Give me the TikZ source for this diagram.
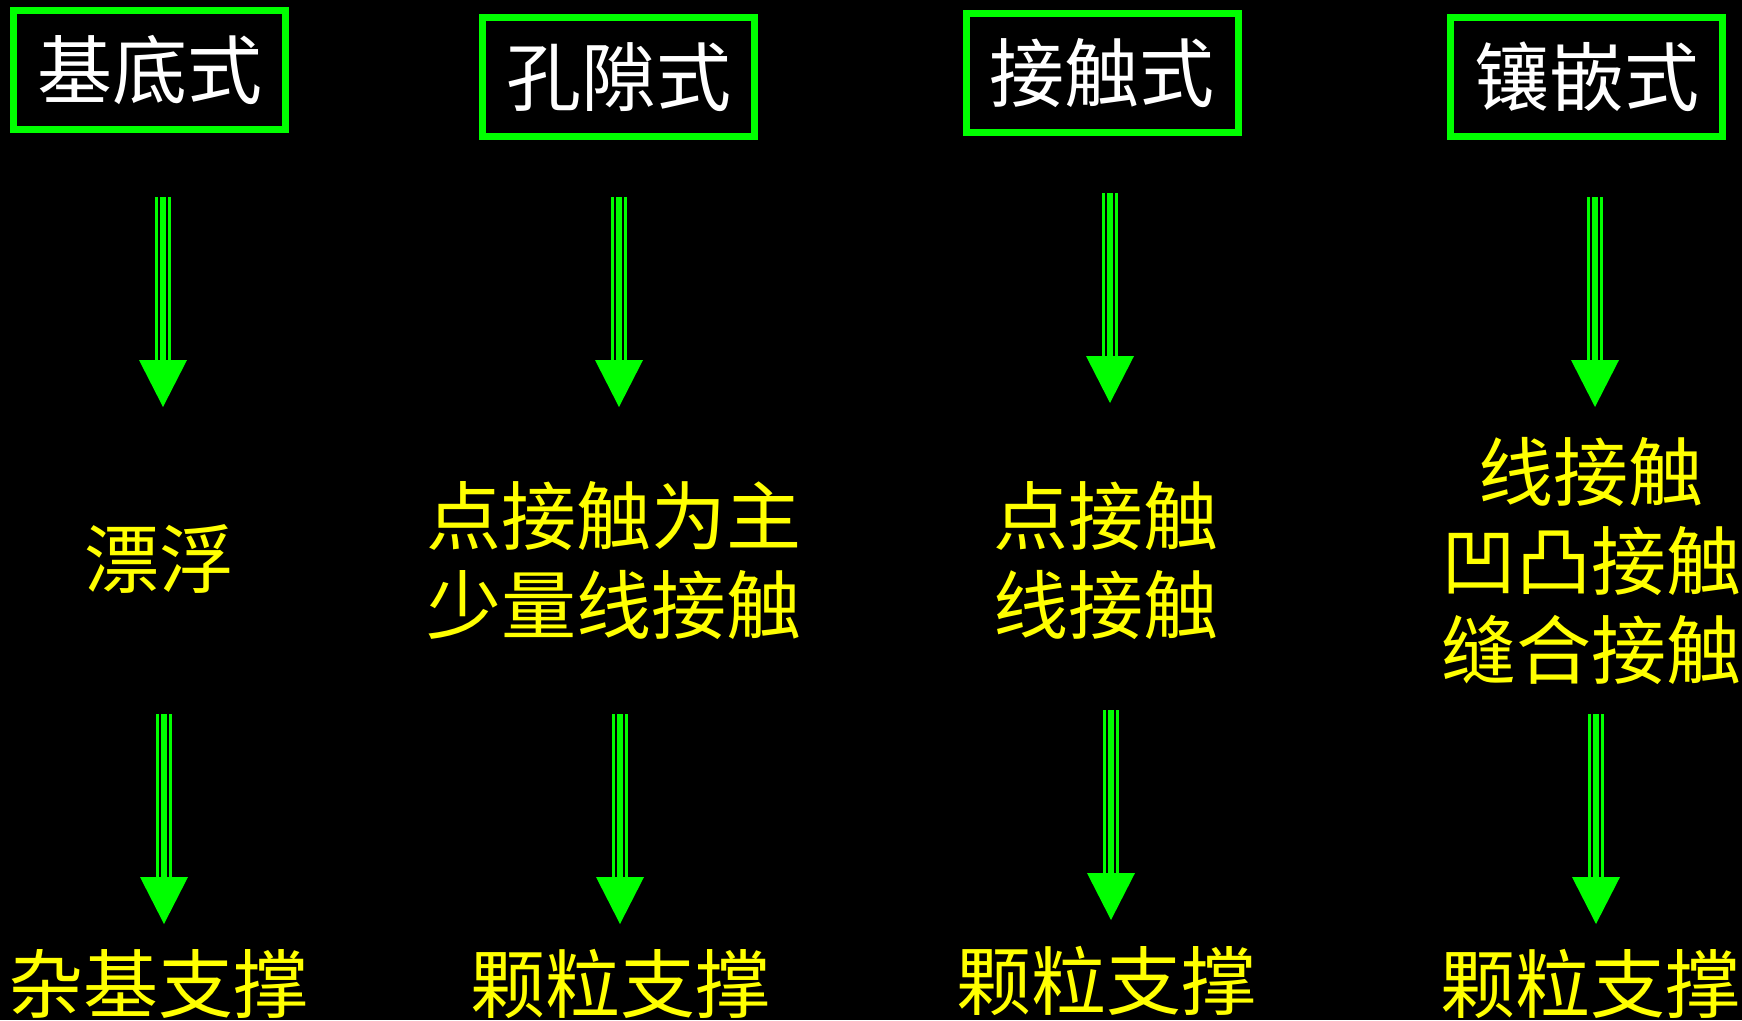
\documentclass[tikz,border=0pt]{standalone}
\usepackage{fontspec}
\newfontfamily\cjk{Noto Sans CJK SC}
\definecolor{brgreen}{RGB}{0,255,0}
\definecolor{bryellow}{RGB}{255,255,0}
\tikzset{
  headbox/.style={draw=brgreen, line width=7pt, minimum width=272pt, minimum height=119pt,
    inner sep=0pt, text=white, font=\cjk\fontsize{75}{86}\selectfont},
  midtext/.style={text=bryellow, align=center, inner sep=0pt,
    font=\cjk\fontsize{75}{89}\selectfont},
  shaftmain/.style={draw=brgreen, line width=6pt},
  shaftside/.style={draw=brgreen, line width=3pt},
  headtip/.style={fill=brgreen}
}
\newcommand\tripleArrow[2]{%
  \draw[shaftmain] (#1) -- ([yshift=45pt]#2);
  \draw[shaftside] ([xshift=-6.5pt]#1) -- ([xshift=-6.5pt,yshift=46pt]#2);
  \draw[shaftside] ([xshift=6.5pt]#1) -- ([xshift=6.5pt,yshift=46pt]#2);
  \fill[headtip] (#2) -- ([xshift=-24pt,yshift=47pt]#2) -- ([xshift=24pt,yshift=47pt]#2) -- cycle;
}
\newcommand\boxtext[1]{\raisebox{-4pt}{#1}}
\begin{document}
\begin{tikzpicture}[x=1pt,y=-1pt]
\fill[black] (0,0) rectangle (1742,1020);
\useasboundingbox (0,0) rectangle (1742,1020);
% header boxes
\node[headbox] (h1) at (149.5,70) {\boxtext{基底式}};
\node[headbox] (h2) at (618.5,77) {\boxtext{孔隙式}};
\node[headbox] (h3) at (1102,73) {\boxtext{接触式}};
\node[headbox] (h4) at (1586.5,77) {\boxtext{镶嵌式}};
% middle texts
\node[midtext] (m1) at (159,559) {漂浮};
\node[midtext] (m2) at (614,561) {点接触为主\\少量线接触};
\node[midtext] (m3) at (1106,561) {点接触\\线接触};
\node[midtext] (m4) at (1591,561) {线接触\\凹凸接触\\缝合接触};
% bottom texts
\node[midtext] (b1) at (159,984) {杂基支撑};
\node[midtext] (b2) at (620,984) {颗粒支撑};
\node[midtext] (b3) at (1106,981) {颗粒支撑};
\node[midtext] (b4) at (1590,984) {颗粒支撑};
% arrow endpoints
\coordinate (a1s) at (163,197); \coordinate (a1e) at (163,407);
\coordinate (a2s) at (619,197); \coordinate (a2e) at (619,407);
\coordinate (a3s) at (1110,193); \coordinate (a3e) at (1110,403);
\coordinate (a4s) at (1595,197); \coordinate (a4e) at (1595,407);
\coordinate (c1s) at (164,714); \coordinate (c1e) at (164,924);
\coordinate (c2s) at (620,714); \coordinate (c2e) at (620,924);
\coordinate (c3s) at (1111,710); \coordinate (c3e) at (1111,920);
\coordinate (c4s) at (1596,714); \coordinate (c4e) at (1596,924);
\tripleArrow{a1s}{a1e}
\tripleArrow{a2s}{a2e}
\tripleArrow{a3s}{a3e}
\tripleArrow{a4s}{a4e}
\tripleArrow{c1s}{c1e}
\tripleArrow{c2s}{c2e}
\tripleArrow{c3s}{c3e}
\tripleArrow{c4s}{c4e}
\end{tikzpicture}
\end{document}
